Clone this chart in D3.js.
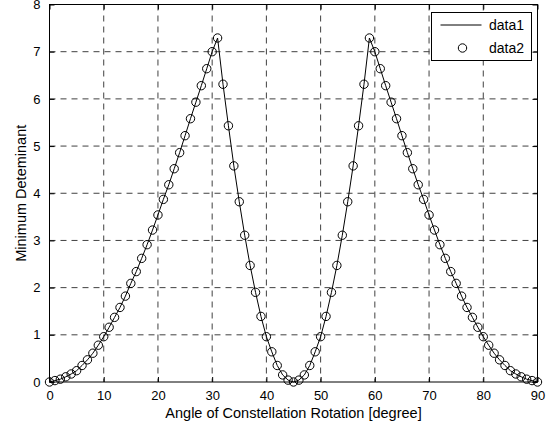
<!DOCTYPE html>
<html>
<head>
<meta charset="utf-8">
<script src="https://cdn.jsdelivr.net/npm/d3@7"></script>
<style>
body { margin: 0; background: #fff; }
text { font-family: "Liberation Sans", Arial, sans-serif; }
</style>
</head>
<body>
<svg id="graph1"></svg>
<script>
// angle of constellation rotation, degree
var angles = [0,1,2,3,4,5,6,7,8,9,10,11,12,13,14,15,16,17,18,19,20,
    21,22,23,24,25,26,27,28,29,30,31,32,33,34,35,36,37,38,39,40,
    41,42,43,44,45,46,47,48,49,50,51,52,53,54,55,56,57,58,59,60,
    61,62,63,64,65,66,67,68,69,70,71,72,73,74,75,76,77,78,79,80,
    81,82,83,84,85,86,87,88,89,90]

// minimum determinant
var minDet = [0,0.03,0.06,0.11,0.17,0.24,0.35,0.47,0.61,0.78,0.96,
    1.16,1.37,1.58,1.82,2.09,2.34,2.62,2.91,3.22,3.54,
    3.87,4.18,4.52,4.86,5.22,5.58,5.93,6.28,6.64,7.00,
    7.29,6.31,5.43,4.58,3.82,3.11,2.47,1.90,1.39,0.96,
    0.64,0.35,0.15,0.04,0,0.04,0.15,0.35,0.64,0.96,
    1.39,1.90,2.47,3.11,3.82,4.58,5.43,6.31,7.29,7.00,
    6.64,6.28,5.93,5.58,5.22,4.86,4.52,4.18,3.87,3.54,
    3.22,2.91,2.62,2.34,2.09,1.82,1.58,1.37,1.16,0.96,
    0.78,0.61,0.47,0.35,0.24,0.17,0.11,0.06,0.03,0]

var xTicks = [0,10,20,30,40,50,60,70,80,90]
var yTicks = [0,1,2,3,4,5,6,7,8]
var legendNames = ["data1","data2"]

var svgw = 556
var svgh = 431
var margins = {left: 49.5, top: 4.5, right: 18.5, bottom: 49}
var graphDim = {width: svgw-margins.left-margins.right, height: svgh-margins.top-margins.bottom}

var makeTranslateString = function(x,y)
{
    return "translate("+x+","+y+")";
}

var svg = d3.select("#graph1")
    .attr("width",svgw)
    .attr("height",svgh)

var target = svg.append("g")
    .attr("transform", makeTranslateString(margins.left, margins.top))

var xscale = d3.scaleLinear()
    .domain([0,90])
    .range([0,graphDim.width])

var yscale = d3.scaleLinear()
    .domain([0,8])
    .range([graphDim.height,0])

// grid
target.append("g")
    .selectAll("line")
    .data(xTicks.slice(1,-1))
    .enter()
    .append("line")
    .attr("x1",function(d){return xscale(d)})
    .attr("x2",function(d){return xscale(d)})
    .attr("y1",0)
    .attr("y2",graphDim.height)
    .attr("stroke","#404040")
    .attr("stroke-dasharray","6,5")
target.append("g")
    .selectAll("line")
    .data(yTicks.slice(1,-1))
    .enter()
    .append("line")
    .attr("y1",function(d){return yscale(d)})
    .attr("y2",function(d){return yscale(d)})
    .attr("x1",0)
    .attr("x2",graphDim.width)
    .attr("stroke","#404040")
    .attr("stroke-dasharray","6,5")

// axes, matlab style: ticks inside on all four sides
var drawAxis = function(axis, x, y)
{
    var g = target.append("g")
        .attr("transform", makeTranslateString(x,y))
        .call(axis)
    g.select(".domain").remove()
    g.selectAll("line").attr("stroke","#000")
    g.selectAll("text")
        .style("font-family","'Liberation Sans', Arial, sans-serif")
        .style("font-size","13px")
        .attr("fill","#000")
    return g
}
drawAxis(d3.axisBottom(xscale).tickValues(xTicks).tickSizeInner(-5).tickPadding(9).tickSizeOuter(0), 0, graphDim.height)
drawAxis(d3.axisLeft(yscale).tickValues(yTicks).tickSizeInner(-5).tickPadding(9).tickSizeOuter(0), 0, 0)
drawAxis(d3.axisTop(xscale).tickValues(xTicks).tickSizeInner(-5).tickSizeOuter(0).tickFormat(""), 0, 0)
drawAxis(d3.axisRight(yscale).tickValues(yTicks).tickSizeInner(-5).tickSizeOuter(0).tickFormat(""), graphDim.width, 0)

target.append("rect")
    .attr("width",graphDim.width)
    .attr("height",graphDim.height)
    .attr("fill","none")
    .attr("stroke","#000")

// data1 line
var line = d3.line()
    .x(function(d,i){return xscale(angles[i])})
    .y(function(d){return yscale(d)})
target.append("path")
    .datum(minDet)
    .attr("d",line)
    .attr("fill","none")
    .attr("stroke","#000")
    .attr("stroke-width",1)

// data2 circles
target.append("g")
    .selectAll("circle")
    .data(minDet)
    .enter()
    .append("circle")
    .attr("cx",function(d,i){return xscale(angles[i])})
    .attr("cy",function(d){return yscale(d)})
    .attr("r",4.2)
    .attr("fill","none")
    .attr("stroke","#000")

// labels
svg.append("text")
    .text("Angle of Constellation Rotation [degree]")
    .attr("text-anchor","middle")
    .attr("x",margins.left+graphDim.width/2)
    .attr("y",418)
    .style("font-size","14.5px")
svg.append("text")
    .attr("transform",makeTranslateString(26, margins.top+graphDim.height/2) + " rotate(-90)")
    .text("Minimum Deteminant")
    .attr("text-anchor","middle")
    .style("font-size","14.5px")

// legend
var legend = svg.append("g")
    .attr("transform", makeTranslateString(431.5,12.5))
legend.append("rect")
    .attr("width",100)
    .attr("height",48)
    .attr("fill","#fff")
    .attr("stroke","#000")
var entries = legend.selectAll("g.entry")
    .data(legendNames)
    .enter()
    .append("g")
    .attr("transform",function(d,i){return makeTranslateString(0, 12.5+i*23)})
entries.append("text")
    .text(function(d){return d})
    .attr("x",57.5)
    .attr("y",5)
    .style("font-size","14px")
legend.append("line")
    .attr("x1",9).attr("x2",50)
    .attr("y1",12.5).attr("y2",12.5)
    .attr("stroke","#000")
legend.append("circle")
    .attr("cx",31).attr("cy",35.5)
    .attr("r",4.2)
    .attr("fill","none")
    .attr("stroke","#000")
</script>
</body>
</html>
